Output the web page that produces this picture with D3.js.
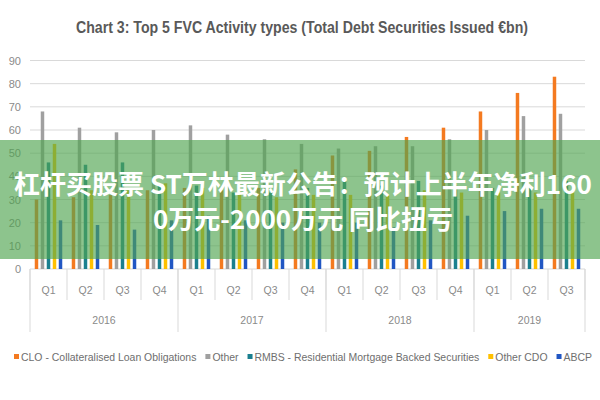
<!DOCTYPE html>
<html>
<head>
<meta charset="utf-8">
<script src="https://cdn.jsdelivr.net/npm/d3@7"></script>
<style>
    html, body { margin: 0; padding: 0; background: #fff; }
    #vis-container { width: 600px; height: 400px; position: relative; }
    text { font-family: "Liberation Sans Narrow", "Liberation Sans", "DejaVu Sans", sans-serif; }
</style>
</head>
<body>
<div id="vis-container"></div>
<script>
"use strict";

// Chart data
const title = "Chart 3: Top 5 FVC Activity types (Total Debt Securities Issued €bn)";
const periods = ["2016-Q1", "2016-Q2", "2016-Q3", "2016-Q4",
                 "2017-Q1", "2017-Q2", "2017-Q3", "2017-Q4",
                 "2018-Q1", "2018-Q2", "2018-Q3", "2018-Q4",
                 "2019-Q1", "2019-Q2", "2019-Q3"];
const years = ["2016", "2017", "2018", "2019"];
const seriesNames = ["CLO - Collateralised Loan Obligations", "Other",
                     "RMBS - Residential Mortgage Backed Securities", "Other CDO", "ABCP"];
const clo      = [30, 31, 32, 34, 35, 34, 35, 43, 49, 51, 57, 61, 68, 76, 83];
const other    = [68, 61, 59, 60, 62, 58, 56, 54, 52, 53, 53, 56, 60, 66, 67];
const rmbs     = [46, 45, 46, 37, 36, 33, 33, 35, 38, 36, 38, 36, 35, 36, 38];
const otherCdo = [54, 34, 34, 37, 35, 33, 31, 32, 32, 32, 34, 33, 33, 33, 33];
const abcp     = [21, 19, 17, 21, 23, 21, 20, 20, 20, 18, 21, 23, 25, 26, 26];
const yTicks = [0, 10, 20, 30, 40, 50, 60, 70, 80, 90];
const bannerLines = ["杠杆买股票 ST万林最新公告：预计上半年净利160", "0万元-2000万元 同比扭亏"];

function mainIndex()
{
    const seriesValues = [clo, other, rmbs, otherCdo, abcp];
    const colors = ["#F47A20", "#A0A0A0", "#1A7F8F", "#FFC000", "#2156C3"];

    const width = 600, height = 400;
    const plot = { left: 30, right: 585, top: 60.5, bottom: 269 };

    const svg = d3.select("#vis-container")
        .append("svg")
        .attr("width", width)
        .attr("height", height);

    // Scales
    const x = d3.scaleBand().domain(periods).range([plot.left, plot.right]).padding(0);
    const xInner = d3.scaleBand()
        .domain(d3.range(seriesNames.length))
        .range([0, x.bandwidth()])
        .paddingInner(0.42)
        .paddingOuter(0.79);
    const y = d3.scaleLinear().domain([0, 90]).range([plot.bottom, plot.top]);
    const color = d3.scaleOrdinal().domain(seriesNames).range(colors);

    // Title
    svg.append("text")
        .attr("x", 302)
        .attr("y", 33)
        .attr("text-anchor", "middle")
        .attr("textLength", 452)
        .attr("lengthAdjust", "spacingAndGlyphs")
        .style("font-size", "16px")
        .style("font-weight", "bold")
        .style("fill", "#595959")
        .text(title);

    // Gridlines
    svg.append("g")
        .selectAll("line")
        .data(yTicks)
        .enter()
        .append("line")
        .attr("x1", plot.left)
        .attr("x2", plot.right)
        .attr("y1", d => y(d))
        .attr("y2", d => y(d))
        .style("stroke", "#d9d9d9")
        .style("stroke-width", 1);

    // Y axis labels
    const yAxis = d3.axisLeft(y).tickValues(yTicks).tickSize(0).tickPadding(0);
    const yG = svg.append("g")
        .attr("transform", "translate(21,0)")
        .call(yAxis);
    yG.select(".domain").remove();
    yG.selectAll("text")
        .style("font-size", "11px")
        .style("fill", "#8a8a8a")
        .style("font-family", "'Liberation Sans Narrow', 'Liberation Sans', sans-serif");

    // Bars
    const rows = periods.map((p, i) => ({ period: p, values: seriesValues.map(s => s[i]) }));
    svg.append("g")
        .selectAll("g")
        .data(rows)
        .enter()
        .append("g")
        .attr("transform", d => `translate(${x(d.period)},0)`)
        .selectAll("rect")
        .data(d => d.values.map((v, k) => ({ k: k, v: v })))
        .enter()
        .append("rect")
        .attr("x", d => xInner(d.k))
        .attr("width", xInner.bandwidth())
        .attr("y", d => y(d.v))
        .attr("height", d => y(0) - y(d.v))
        .style("fill", d => color(seriesNames[d.k]));

    // Multi-level category axis
    const axisG = svg.append("g");
    const quarterBoundaries = periods.map(p => x(p)).concat([x.range()[1]]);
    axisG.selectAll(".qline")
        .data(quarterBoundaries)
        .enter()
        .append("line")
        .attr("x1", d => d)
        .attr("x2", d => d)
        .attr("y1", plot.bottom)
        .attr("y2", 300)
        .style("stroke", "#d9d9d9");

    axisG.selectAll(".qlabel")
        .data(periods)
        .enter()
        .append("text")
        .attr("x", d => x(d) + x.bandwidth() / 2)
        .attr("y", 294)
        .attr("text-anchor", "middle")
        .style("font-size", "10.5px")
        .style("fill", "#8a8a8a")
        .text(d => d.split("-")[1]);

    const yearSpans = years.map(yr => {
        const ps = periods.filter(p => p.startsWith(yr));
        return { year: yr, x0: x(ps[0]), x1: x(ps[ps.length - 1]) + x.bandwidth() };
    });

    axisG.selectAll(".yline")
        .data(yearSpans.map(d => d.x0).concat([yearSpans[yearSpans.length - 1].x1]))
        .enter()
        .append("line")
        .attr("x1", d => d)
        .attr("x2", d => d)
        .attr("y1", plot.bottom)
        .attr("y2", 332)
        .style("stroke", "#d9d9d9");

    axisG.selectAll(".ylabel")
        .data(yearSpans)
        .enter()
        .append("text")
        .attr("x", d => (d.x0 + d.x1) / 2)
        .attr("y", 324)
        .attr("text-anchor", "middle")
        .style("font-size", "10.5px")
        .style("fill", "#8a8a8a")
        .text(d => d.year);

    // Legend, laid out left to right and fitted to its span
    const legendG = svg.append("g").attr("transform", "translate(0,357)");
    const items = legendG.selectAll("g")
        .data(seriesNames)
        .enter()
        .append("g");
    items.append("rect")
        .attr("y", -3)
        .attr("width", 5)
        .attr("height", 5)
        .style("fill", color);
    const labels = items.append("text")
        .attr("x", 7)
        .attr("y", 3.5)
        .style("font-size", "11px")
        .style("fill", "#6e6e6e")
        .text(d => d);

    const textWidths = [];
    labels.each(function () { textWidths.push(this.getComputedTextLength()); });
    const legendStart = 14, legendEnd = 592, itemGap = 9, boxW = 7;
    const fixed = seriesNames.length * boxW + (seriesNames.length - 1) * itemGap;
    const k = (legendEnd - legendStart - fixed) / d3.sum(textWidths);
    let cursor = legendStart;
    items.each(function (d, i) {
        d3.select(this).attr("transform", `translate(${cursor},0)`);
        cursor += boxW + textWidths[i] * k + itemGap;
    });
    labels
        .attr("textLength", (d, i) => textWidths[i] * k)
        .attr("lengthAdjust", "spacingAndGlyphs");

    // Green news banner laid over the chart
    svg.append("rect")
        .attr("x", 0)
        .attr("y", 140)
        .attr("width", width)
        .attr("height", 119)
        .style("fill", "rgba(80,165,80,0.65)");

    svg.append("g")
        .selectAll("text")
        .data(bannerLines)
        .enter()
        .append("text")
        .attr("x", 303)
        .attr("y", (d, i) => 194 + i * 35)
        .attr("text-anchor", "middle")
        .style("font-family", "'Noto Sans CJK SC', sans-serif")
        .style("font-size", "26px")
        .style("font-weight", "bold")
        .style("fill", "#ffffff")
        .text(d => d);
}

document.addEventListener("DOMContentLoaded", mainIndex);
</script>
</body>
</html>
